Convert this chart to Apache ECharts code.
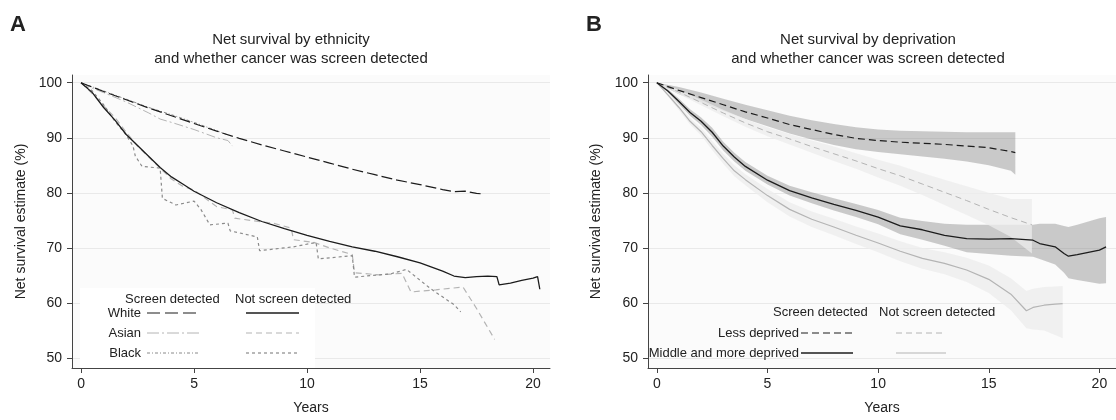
<!DOCTYPE html>
<html>
<head>
<meta charset="utf-8">
<script src="https://cdn.jsdelivr.net/npm/echarts@6/dist/echarts.min.js"></script>
<style>
html, body { margin: 0; padding: 0; background: #fff; }
#main { width: 1116px; height: 420px; }
</style>
</head>
<body>
<div id="main"></div>
<script>
/** ---------------- Panel A: by ethnicity ---------------- */
var whiteScrX = [0, 1, 2, 3, 4, 5, 6, 7, 8, 9, 10, 11, 12, 13, 14, 15, 16, 16.5, 17, 17.5, 17.8];
var whiteScrY = [100, 98.4, 96.9, 95.4, 94, 92.6, 91.2, 89.9, 88.7, 87.6, 86.5, 85.4, 84.3, 83.3, 82.3, 81.5, 80.6, 80.2, 80.3, 79.9, 79.8];

var asianScrX = [0, 0.5, 1, 2, 3, 3.5, 4, 5, 6, 6.5, 6.7];
var asianScrY = [100, 99, 98.2, 96.5, 94.5, 93.4, 92.8, 91.5, 90, 89.5, 88.5];

var blackScrX = [0, 1, 2, 3, 4, 5, 6, 6.5];
var blackScrY = [100, 98.5, 97, 95.5, 94.2, 92.8, 91.3, 90.5];

var whiteNotX = [0, 0.5, 1, 1.5, 2, 2.5, 3, 3.5, 4, 4.5, 5, 6, 7, 8, 9, 10, 11, 12, 13, 14, 15, 16, 16.5, 17, 17.5, 18, 18.4, 18.5, 19, 19.5, 20, 20.2, 20.3];
var whiteNotY = [100, 98.2, 95.5, 93.2, 90.6, 88.6, 86.6, 84.6, 82.9, 81.6, 80.3, 78.2, 76.4, 74.8, 73.5, 72.3, 71.2, 70.2, 69.4, 68.4, 67.3, 65.8, 64.9, 64.6, 64.8, 64.9, 64.8, 63.3, 63.6, 64.1, 64.5, 64.8, 62.5];

var asianNotX = [0, 0.5, 1, 1.5, 2, 2.5, 3, 3.5, 4, 4.5, 5, 5.5, 6, 6.7, 6.8, 7.5, 8.5, 9.3, 9.4, 10.3, 11, 12, 12.1, 13.2, 14.2, 14.6, 15.7, 16.9, 17.5, 18.3];
var asianNotY = [100, 98, 95.8, 93.7, 91, 88.5, 86.5, 84.5, 82.5, 81.2, 80.5, 79, 77.5, 76.9, 75.4, 75, 74.5, 73.6, 71.5, 71, 70, 68.8, 65.5, 65.1, 65.4, 62, 62.4, 62.9, 59, 53.4];

var blackNotX = [0, 0.5, 1, 1.5, 2, 2.3, 2.4, 2.7, 3.5, 3.6, 4.2, 5, 5.3, 5.7, 6.5, 6.6, 7.8, 7.9, 9.4, 10.4, 10.5, 12, 12.1, 13.7, 14.4, 15.5, 16.5, 16.8];
var blackNotY = [100, 98.5, 96, 93, 90.5, 88.5, 86.7, 84.8, 84.5, 79, 77.8, 78.5, 77, 74.2, 74.5, 73.1, 72, 69.5, 70.2, 71, 68, 68.6, 64.7, 65.3, 66.1, 62.5, 59.7, 58.4];

/** ---------------- Panel B: by deprivation ---------------- */
// less deprived, screen detected
var lessScrX = [0, 1, 2, 3, 4, 5, 6, 7, 8, 9, 10, 11, 12, 13, 14, 15, 16, 16.2];
var lessScrY = [100, 98.6, 97.3, 96, 94.7, 93.6, 92.4, 91.5, 90.6, 89.9, 89.5, 89.2, 89.0, 88.8, 88.5, 88.2, 87.5, 87.3];
var lessScrLo = [100, 97.9, 96.4, 94.9, 93.4, 92.1, 90.8, 89.7, 88.7, 87.9, 87.4, 87.0, 86.6, 86.2, 85.7, 85, 84, 83.3];
var lessScrHi = [100, 99.2, 98.2, 97.1, 96, 95, 94, 93.2, 92.5, 91.9, 91.5, 91.3, 91.2, 91.1, 91.0, 91.0, 91.0, 91.0];

// less deprived, not screen detected
var lessNotX = [0, 1, 2, 3, 4, 5, 6, 7, 8, 9, 10, 11, 12, 13, 14, 15, 16, 16.95];
var lessNotY = [100, 98.3, 96.4, 94.5, 92.7, 91.1, 89.8, 88.4, 87.1, 85.8, 84.4, 83.1, 81.6, 80.1, 78.6, 77, 75.5, 74.2];
var lessNotLo = [100, 97.9, 95.9, 93.9, 92, 90.3, 88.8, 87.3, 85.8, 84.4, 82.8, 81.3, 79.6, 77.8, 76, 74.1, 72, 69];
var lessNotHi = [100, 98.7, 96.9, 95.1, 93.4, 91.9, 90.7, 89.5, 88.4, 87.2, 86, 84.9, 83.6, 82.4, 81.2, 80, 78.9, 78.9];

// middle and more deprived, screen detected
var midScrX = [0, 0.5, 1, 1.5, 2, 2.5, 3, 3.5, 4, 5, 6, 7, 8, 9, 10, 11, 12, 13, 14, 15, 16, 17, 17.3, 18, 18.4, 18.6, 19, 20, 20.3];
var midScrY = [100, 98.5, 96.6, 94.6, 93, 91, 88.5, 86.5, 84.8, 82.3, 80.4, 79.1, 77.9, 76.8, 75.6, 74, 73.3, 72.3, 71.7, 71.6, 71.7, 71.4, 70.8, 70.2, 69, 68.5, 68.8, 69.6, 70.2];
var midScrLo = [100, 98.2, 96.1, 94.0, 92.3, 90.2, 87.7, 85.7, 84.0, 81.5, 79.5, 78.1, 76.8, 75.6, 74.3, 72.5, 71.5, 70.4, 69.2, 68.9, 68.6, 68.4, 68.0, 67.0, 65.5, 64.5, 64.2, 63.5, 63.6];
var midScrHi = [100, 98.8, 97.1, 95.2, 93.7, 91.8, 89.3, 87.3, 85.6, 83.1, 81.3, 80.1, 79, 78, 76.9, 75.5, 74.9, 74.4, 74.2, 74.2, 74.2, 74.2, 74.4, 74.4, 74.0, 73.8, 74.2, 75.4, 75.6];

// middle and more deprived, not screen detected
var midNotX = [0, 0.5, 1, 1.5, 2, 2.5, 3, 3.5, 4, 5, 6, 7, 8, 9, 10, 11, 12, 13, 14, 15, 16, 16.7, 17, 17.5, 18, 18.34];
var midNotY = [100, 97.8, 95.5, 93, 91.1, 88.6, 86.2, 84, 82.4, 79.5, 77, 75.2, 73.8, 72.3, 70.9, 69.4, 68.1, 67.2, 66, 64.3, 61.6, 58.6, 59.2, 59.6, 59.8, 59.9];
var midNotLo = [100, 97.5, 95, 92.4, 90.4, 87.8, 85.3, 83, 81.4, 78.3, 75.7, 73.8, 72.3, 70.7, 69.2, 67.6, 66.2, 65.2, 63.8, 61.8, 58.7, 55.4, 55.2, 55.0, 54.2, 53.6];
var midNotHi = [100, 98.1, 96, 93.6, 91.8, 89.4, 87.1, 85, 83.4, 80.7, 78.3, 76.6, 75.3, 73.9, 72.6, 71.2, 70, 69.2, 68.2, 66.8, 64.5, 62.2, 62.6, 62.9, 63.0, 63.1];

var xTicks = [0, 5, 10, 15, 20];
var yTicks = [50, 60, 70, 80, 90, 100];

var FONT = "'Liberation Sans', Arial, sans-serif";
var BLACK = '#1c1c1c';
var LIGHT = '#b4b4b4';
var MIDGRAY = '#8a8a8a';

/** -------- helpers -------- */
function pairs(xs, ys) {
    var out = [];
    for (var i = 0; i < xs.length; i++) {
        out.push([xs[i], ys[i]]);
    }
    return out;
}

function curve(idx, name, xs, ys, color, width, dash, z) {
    return {
        name: name,
        type: 'line',
        xAxisIndex: idx,
        yAxisIndex: idx,
        data: pairs(xs, ys),
        symbol: 'none',
        silent: true,
        z: z || 5,
        lineStyle: { color: color, width: width, type: dash }
    };
}

// confidence band: one polygon (lower edge forward, upper edge back) through the axis scales
function band(idx, xs, lo, hi, fill, z) {
    var rows = [];
    for (var i = 0; i < xs.length; i++) {
        rows.push([xs[i], lo[i], hi[i]]);
    }
    return {
        type: 'custom', xAxisIndex: idx, yAxisIndex: idx, silent: true, z: z, clip: true,
        data: rows,
        encode: { x: 0, y: [1, 2] },
        renderItem: function (params, api) {
            if (params.dataIndex !== 0) return null;
            var pts = [];
            for (var i = 0; i < rows.length; i++) pts.push(api.coord([rows[i][0], rows[i][1]]));
            for (var j = rows.length - 1; j >= 0; j--) pts.push(api.coord([rows[j][0], rows[j][2]]));
            return { type: 'polygon', shape: { points: pts }, style: { fill: fill } };
        }
    };
}

function xAxisOf(idx) {
    return {
        type: 'value', gridIndex: idx, min: -0.4, max: 20.75,
        name: 'Years', nameLocation: 'middle', nameGap: 33,
        nameTextStyle: { fontFamily: FONT, fontSize: 14, color: '#222' },
        axisLine: { show: true, onZero: false, lineStyle: { color: '#444', width: 1 } },
        axisTick: { show: true, length: 5, customValues: xTicks, lineStyle: { color: '#444' } },
        axisLabel: { customValues: xTicks, fontFamily: FONT, fontSize: 14, color: '#222', margin: 9 },
        splitLine: { show: false }
    };
}

function yAxisOf(idx, gap) {
    return {
        type: 'value', gridIndex: idx, min: 48.2, max: 101.4,
        name: 'Net survival estimate (%)', nameLocation: 'middle', nameGap: gap,
        nameTextStyle: { fontFamily: FONT, fontSize: 14, color: '#222' },
        axisLine: { show: true, onZero: false, lineStyle: { color: '#444', width: 1 } },
        axisTick: { show: true, length: 5, customValues: yTicks, lineStyle: { color: '#444' } },
        axisLabel: { customValues: yTicks, fontFamily: FONT, fontSize: 14, color: '#222', margin: 10 },
        splitLine: { show: true, lineStyle: { color: '#e9e9e9', width: 1 } }
    };
}

function txt(x, y, s, align, size, weight) {
    return {
        type: 'text', x: x, y: y, z: 101,
        style: {
            text: s, fontFamily: FONT, fontSize: size || 13, fontWeight: weight || 'normal',
            fill: '#222', align: align || 'left', verticalAlign: 'middle'
        }
    };
}

function seg(x1, x2, y, color, width, dash) {
    return {
        type: 'line', z: 101,
        shape: { x1: x1, y1: y, x2: x2, y2: y },
        style: { stroke: color, lineWidth: width, lineDash: dash }
    };
}

/** -------- build chart -------- */
var chart = echarts.init(document.getElementById('main'), null, { renderer: 'canvas' });

var series = [];
// panel A
series.push(curve(0, 'Asian screen', asianScrX, asianScrY, LIGHT, 1, [9, 3, 2, 3]));
series.push(curve(0, 'Black screen', blackScrX, blackScrY, MIDGRAY, 1, [3, 2, 1, 2]));
series.push(curve(0, 'Asian not', asianNotX, asianNotY, LIGHT, 1.2, [6, 4]));
series.push(curve(0, 'Black not', blackNotX, blackNotY, MIDGRAY, 1.2, [3, 3]));
series.push(curve(0, 'White screen', whiteScrX, whiteScrY, BLACK, 1.2, [11, 4], 6));
series.push(curve(0, 'White not', whiteNotX, whiteNotY, BLACK, 1.3, 'solid', 6));
// panel B bands: dark for screen detected, light for not screen detected
series.push(band(1, lessScrX, lessScrLo, lessScrHi, 'rgba(120,120,120,0.38)', 2));
series.push(band(1, midScrX, midScrLo, midScrHi, 'rgba(120,120,120,0.38)', 2));
series.push(band(1, lessNotX, lessNotLo, lessNotHi, 'rgba(236,236,236,0.75)', 3));
series.push(band(1, midNotX, midNotLo, midNotHi, 'rgba(236,236,236,0.75)', 3));
// panel B lines
series.push(curve(1, 'Less not', lessNotX, lessNotY, LIGHT, 1, [6, 4]));
series.push(curve(1, 'Mid not', midNotX, midNotY, LIGHT, 1.2, 'solid'));
series.push(curve(1, 'Less screen', lessScrX, lessScrY, BLACK, 1.2, [7, 4], 6));
series.push(curve(1, 'Mid screen', midScrX, midScrY, BLACK, 1.3, 'solid', 6));

var graphics = [
    txt(10, 25, 'A', 'left', 22, 'bold'),
    txt(586, 25, 'B', 'left', 22, 'bold'),
    txt(291, 40, 'Net survival by ethnicity', 'center', 15),
    txt(291, 59, 'and whether cancer was screen detected', 'center', 15),
    txt(868, 40, 'Net survival by deprivation', 'center', 15),
    txt(868, 59, 'and whether cancer was screen detected', 'center', 15),
    // legend A (white box over the grid lines)
    { type: 'rect', z: 100, shape: { x: 80, y: 288, width: 235, height: 80 }, style: { fill: '#fff' } },
    txt(125, 299, 'Screen detected'),
    txt(235, 299, 'Not screen detected'),
    txt(141, 313, 'White', 'right'),
    txt(141, 333, 'Asian', 'right'),
    txt(141, 353, 'Black', 'right'),
    seg(147, 200, 313, BLACK, 1.2, [13, 5]),
    seg(246, 299, 313, BLACK, 1.3, null),
    seg(147, 200, 333, LIGHT, 1, [12, 3, 2, 3]),
    seg(246, 299, 333, LIGHT, 1.2, [6, 4]),
    seg(147, 200, 353, MIDGRAY, 1, [3, 2, 1, 2]),
    seg(246, 299, 353, MIDGRAY, 1.2, [3, 3]),
    // legend B
    txt(773, 312, 'Screen detected'),
    txt(879, 312, 'Not screen detected'),
    txt(799, 333, 'Less deprived', 'right'),
    txt(799, 353, 'Middle and more deprived', 'right'),
    seg(801, 853, 333, BLACK, 1.2, [7, 4]),
    seg(896, 946, 333, LIGHT, 1, [6, 4]),
    seg(801, 853, 353, BLACK, 1.3, null),
    seg(896, 946, 353, LIGHT, 1.2, null)
];

var option = {
    animation: false,
    backgroundColor: '#fff',
    textStyle: { fontFamily: FONT },
    grid: [
        { left: 72, top: 75, width: 478, height: 297, show: true, backgroundColor: '#fbfbfb', borderWidth: 0 },
        { left: 648, top: 75, width: 480, height: 297, show: true, backgroundColor: '#fbfbfb', borderWidth: 0 }
    ],
    xAxis: [xAxisOf(0), xAxisOf(1)],
    yAxis: [yAxisOf(0, 44), yAxisOf(1, 45)],
    series: series,
    graphic: graphics
};

chart.setOption(option);

window.onresize = function () {
    chart.resize();
};
</script>
</body>
</html>
